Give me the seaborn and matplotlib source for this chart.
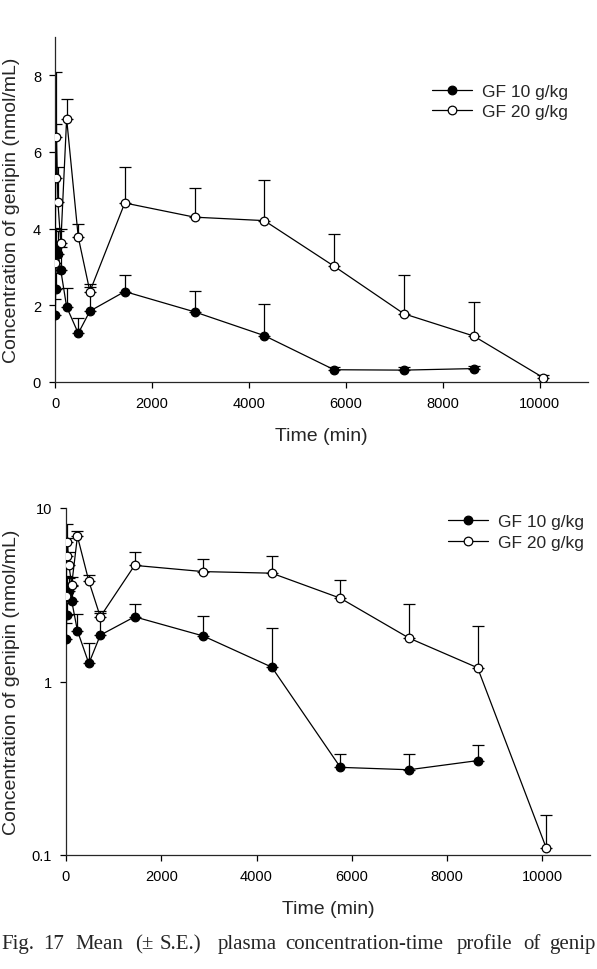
import numpy as np
import pandas as pd
import matplotlib
matplotlib.use("Agg")
import matplotlib.pyplot as plt
import seaborn as sns
from matplotlib.ticker import FixedLocator, FixedFormatter, NullLocator

# mean plasma genipin (nmol/mL) and upper S.E.
time_10 = [5, 15, 30, 60, 120, 240, 480, 720, 1440, 2880, 4320, 5760, 7200, 8640]
conc_10 = [1.76, 2.42, 3.51, 3.33, 2.91, 1.96, 1.27, 1.85, 2.36, 1.83, 1.21, 0.32, 0.31, 0.35]
se_10 = [0.40, 0.43, 0.49, 0.62, 0.62, 0.49, 0.39, 0.63, 0.44, 0.55, 0.82, 0.06, 0.07, 0.08]

time_20 = [5, 15, 30, 60, 120, 240, 480, 720, 1440, 2880, 4320, 5760, 7200, 8640, 10080]
conc_20 = [3.10, 5.31, 6.40, 4.69, 3.62, 6.87, 3.78, 2.36, 4.67, 4.30, 4.21, 3.02, 1.78, 1.20, 0.11]
se_20 = [0.93, 2.79, 0.32, 0.91, 0.37, 0.51, 0.34, 0.19, 0.93, 0.75, 1.06, 0.84, 1.02, 0.90, 0.06]

labels = ["GF 10 g/kg", "GF 20 g/kg"]
x_ticks = [0, 2000, 4000, 6000, 8000, 10000]
y_ticks_lin = [0, 2, 4, 6, 8]
y_ticks_log = [0.1, 1, 10]

df = pd.concat([
    pd.DataFrame({"time": time_10, "conc": conc_10, "se": se_10, "dose": labels[0]}),
    pd.DataFrame({"time": time_20, "conc": conc_20, "se": se_20, "dose": labels[1]}),
])

sns.set_style("ticks")
plt.rcParams["font.family"] = ["Liberation Sans", "DejaVu Sans"]

W, H = 597, 970
fig = plt.figure(figsize=(W / 100, H / 100), dpi=100)


def px_axes(l, t, r, b):
    return fig.add_axes([l / W, 1 - b / H, (r - l) / W, (b - t) / H])


ax1 = px_axes(55, 38, 588, 383)
ax2 = px_axes(66, 509, 590, 856)

face = {labels[0]: "black", labels[1]: "white"}


def draw(ax):
    for dose, g in df.groupby("dose", sort=False):
        ax.errorbar(g["time"], g["conc"], yerr=[np.zeros(len(g)), g["se"]],
                    fmt="none", ecolor="black", elinewidth=0.9, capsize=4.5,
                    capthick=0.9, zorder=2)
        sns.lineplot(data=g, x="time", y="conc", ax=ax, color="black",
                     linewidth=0.9, marker="o", markersize=6.2,
                     markerfacecolor=face[dose], markeredgecolor="black",
                     markeredgewidth=0.9, label=dose, zorder=3, sort=False)
    for s in ["top", "right"]:
        ax.spines[s].set_visible(False)
    for s in ["left", "bottom"]:
        ax.spines[s].set_linewidth(0.9)
    ax.set_xlim(0, 11000)
    ax.set_xticks(x_ticks)
    ax.tick_params(direction="out", length=4, width=0.9, labelsize=10.5,
                   colors="black", pad=6)
    ax.set_xlabel("Time (min)", fontsize=14, labelpad=12)
    ax.set_ylabel("Concentration of genipin (nmol/mL)", fontsize=14)


draw(ax1)
ax1.set_ylim(0, 9)
ax1.set_yticks(y_ticks_lin)
ax1.yaxis.set_label_coords(-0.066, 0.5)
ax1.legend(loc="upper left", bbox_to_anchor=(0.707, 0.863), frameon=False,
           fontsize=12.5, handlelength=2.3, handletextpad=0.6,
           labelspacing=0.25, borderpad=0, borderaxespad=0)

draw(ax2)
ax2.set_yscale("log")
ax2.set_ylim(0.1, 10)
ax2.yaxis.set_major_locator(FixedLocator(y_ticks_log))
ax2.yaxis.set_major_formatter(FixedFormatter(["0.1", "1", "10"]))
ax2.yaxis.set_minor_locator(NullLocator())
ax2.yaxis.set_label_coords(-0.088, 0.5)
ax2.legend(loc="upper left", bbox_to_anchor=(0.729, 0.983), frameon=False,
           fontsize=12.5, handlelength=2.3, handletextpad=0.6,
           labelspacing=0.32, borderpad=0, borderaxespad=0)

# caption of the figure (justified line, cut at the page edge)
caption_words = ["Fig.", "17", "Mean", "(\u00b1", "S.E.)", "plasma",
                 "concentration-time", "profile", "of", "genip"]
caption_x = [1, 43, 75, 135, 160, 218, 285, 457, 523, 549]
for w, x in zip(caption_words, caption_x):
    fig.text(x / W, 1 - 949 / H, w, fontsize=15, va="baseline", ha="left",
             family=["Liberation Serif", "DejaVu Serif"])

fig.savefig("out.png", dpi=100)
